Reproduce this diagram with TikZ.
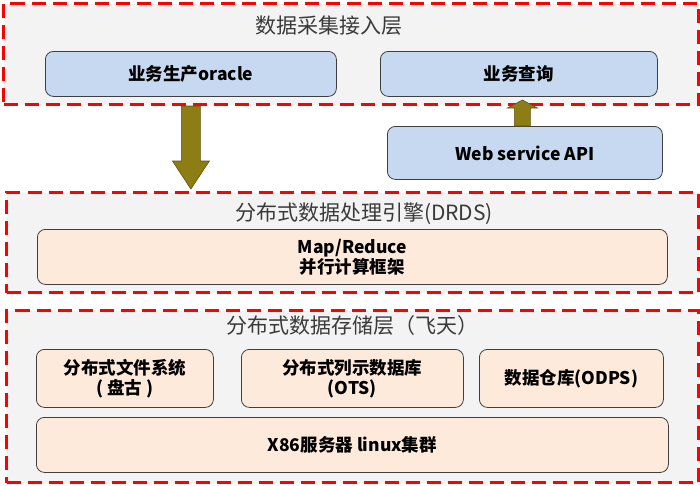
\documentclass[tikz,border=0pt]{standalone}
\usepackage{fontspec}
\setmainfont{Noto Sans CJK SC}
\usetikzlibrary{calc}
\definecolor{layerfill}{HTML}{F3F3F3}
\definecolor{dashred}{HTML}{FF0000}
\definecolor{bluefill}{HTML}{C6D9F1}
\definecolor{peach}{HTML}{FDEADA}
\definecolor{olivefill}{HTML}{8C7D15}
\definecolor{olivedark}{HTML}{5E540E}
\definecolor{titlegray}{HTML}{3A3A3A}
\definecolor{boxline}{HTML}{3F3F3F}
\begin{document}
\begin{tikzpicture}[x=1pt,y=-1pt,
  layer/.style={draw=dashred, line width=3pt, dash pattern=on 14pt off 7pt, fill=layerfill, anchor=north west, inner sep=0pt},
  layertitle/.style={font=\fontsize{21}{24}\selectfont, text=titlegray, inner sep=0pt},
  boxbase/.style={draw=boxline, line width=0.8pt, rounded corners=8pt, anchor=north west, inner sep=0pt, align=center, font=\bfseries\fontsize{17.5}{20}\selectfont, text=black},
  bluebox/.style={boxbase, fill=bluefill},
  peachbox/.style={boxbase, fill=peach},
  bigarrow/.style={fill=olivefill, draw=olivedark, line width=0.6pt, line join=miter}
]
\useasboundingbox (0,0) rectangle (700,485);
\fill[white] (0,0) rectangle (700,485);

% layers
\node[layer, minimum width=695pt, minimum height=101pt] (L1) at (2,2) {};
\node[layer, minimum width=692pt, minimum height=100pt] (L2) at (5,191) {};
\node[layer, minimum width=692pt, minimum height=172pt] (L3) at (5,309) {};

% titles
\node[layertitle] (T1) at (329,26) {数据采集接入层};
\node[layertitle] (T2) at (364,214) {分布式数据处理引擎(DRDS)};
\node[layertitle] (T3) at (352,326) {分布式数据存储层（飞天）};

% layer 1 boxes
\node[bluebox, minimum width=291pt, minimum height=45pt] (oracle) at (45,51) {业务生产oracle};
\node[bluebox, minimum width=277pt, minimum height=45pt] (query) at (380,51) {业务查询};
\node[bluebox, minimum width=275pt, minimum height=53pt] (web) at (387,126) {Web service API};

% layer 2 box
\node[peachbox, minimum width=630pt, minimum height=55pt] (mr) at (37,229) {Map/Reduce\\并行计算框架};

% layer 3 boxes
\node[peachbox, minimum width=177pt, minimum height=58pt] (fs) at (36,349) {分布式文件系统\\( 盘古 )};
\node[peachbox, minimum width=222pt, minimum height=58pt] (ots) at (241,349) {分布式列示数据库\\(OTS)};
\node[peachbox, minimum width=184pt, minimum height=58pt] (odps) at (479,349) {数据仓库(ODPS)};
\node[peachbox, minimum width=632pt, minimum height=55pt] (x86) at (36,417) {X86服务器 linux集群};

% down arrow
\coordinate (dtop) at (oracle.south |- L1.south);
\coordinate (dtip) at ($(oracle.south |- L2.north)+(0,-2)$);
\filldraw[bigarrow] ($(dtop)+(-9.5,0)$) -- ($(dtop)+(9.5,0)$) -- ($(dtip)+(9.5,-28)$) -- ($(dtip)+(18.5,-28)$) -- (dtip) -- ($(dtip)+(-18.5,-28)$) -- ($(dtip)+(-9.5,-28)$) -- cycle;

% up arrow
\coordinate (ubase) at ($(web.north)+(-2.5,0)$);
\coordinate (utip) at ($(query.south |- ubase)+(3.5,-26)$);
\filldraw[bigarrow] ($(ubase)+(-8,0)$) -- ($(ubase)+(8,0)$) -- ($(utip)+(8,8)$) -- ($(utip)+(15,8)$) -- (utip) -- ($(utip)+(-15,8)$) -- ($(utip)+(-8,8)$) -- cycle;
\end{tikzpicture}
\end{document}
